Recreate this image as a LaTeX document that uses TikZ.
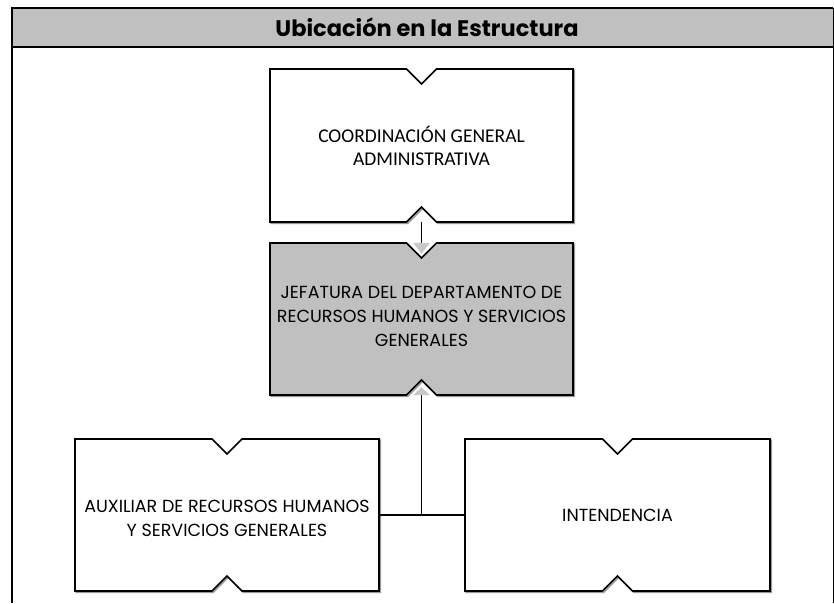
\documentclass[tikz,border=0pt]{standalone}
\usepackage{fontspec}
\setmainfont{Carlito}
\newfontfamily\gothic{Poppins}
\definecolor{boxgray}{HTML}{C0C0C0}
\definecolor{arrgray}{HTML}{C8C8C8}
\definecolor{shadowgray}{HTML}{9A9A9A}
\newcommand\notchbox[6]{%
  \path[#6] (#2,#3) -- ({(#2+#4)/2-15},#3) -- ({(#2+#4)/2},{#3+15}) -- ({(#2+#4)/2+15},#3) -- (#4,#3)
    -- (#4,#5) -- ({(#2+#4)/2+15},#5) -- ({(#2+#4)/2},{#5-15}) -- ({(#2+#4)/2-15},#5) -- (#2,#5) -- cycle;
  \node[inner sep=0pt, minimum width={#4-#2}, minimum height={#5-#3}] (#1) at ({(#2+#4)/2},{(#3+#5)/2}) {};
}
\tikzset{
  boxline/.style={draw=black, line width=1.6pt, line join=miter},
  shadow/.style={draw=shadowgray, line width=1.6pt, shift={(1.2,1.2)}},
  conn/.style={draw=black, line width=1.7pt},
  boxtext/.style={align=center, font=\gothic\fontsize{17.5}{24}\selectfont, inner sep=0pt},
}
\begin{document}
\begin{tikzpicture}[x=1pt,y=-1pt]
\useasboundingbox (0,0) rectangle (834,603);
% frame and header
\fill[boxgray] (12,7.5) rectangle (833,46.5);
\draw[line width=2pt] (12,603) -- (12,7.5) -- (833,7.5);
\draw[line width=1pt] (833,7.5) -- (833,603);
\draw[line width=2pt] (12,46.5) -- (833,46.5);
\node[font=\gothic\bfseries\fontsize{22.5}{26}\selectfont, inner sep=0pt] (title) at (427,27) {Ubicación en la Estructura};
% shadows
\notchbox{s1}{270}{69}{573}{222}{shadow}
\notchbox{s2}{270}{243}{573}{395}{shadow}
\notchbox{s3}{75}{439}{379}{591}{shadow}
\notchbox{s4}{465}{439}{770}{591}{shadow}
% boxes
\notchbox{coord}{270}{69}{573}{222}{boxline, fill=white}
\notchbox{jef}{270}{243}{573}{395}{boxline, fill=boxgray}
\notchbox{aux}{75}{439}{379}{591}{boxline, fill=white}
\notchbox{int}{465}{439}{770}{591}{boxline, fill=white}
% texts
\node[align=center, font=\fontsize{19.5}{23}\selectfont, inner sep=0pt] (t1) at (coord.center) {COORDINACIÓN GENERAL\\ADMINISTRATIVA};
\node[boxtext] (t2) at ([yshift=2.5]jef.center) {JEFATURA DEL DEPARTAMENTO DE\\RECURSOS HUMANOS Y SERVICIOS\\GENERALES};
\node[boxtext] (t3) at ([yshift=-3]aux.center) {AUXILIAR DE RECURSOS HUMANOS\\Y SERVICIOS GENERALES};
\node[boxtext] (t4) at (int.center) {INTENDENCIA};
% connectors
\coordinate (junc) at (jef.south |- aux.east);
\draw[conn] (coord.south) -- ([yshift=-2]jef.north);
\fill[arrgray] ([xshift=-8.5]jef.north) -- ([xshift=8.5]jef.north) -- ([yshift=-11]jef.north) -- cycle;
\draw[conn] (junc) -- ([yshift=2]jef.south);
\fill[arrgray] ([xshift=-8.5]jef.south) -- ([xshift=8.5]jef.south) -- ([yshift=8]jef.south) -- cycle;
\draw[conn] (aux.east) -- (int.west);
\end{tikzpicture}
\end{document}
